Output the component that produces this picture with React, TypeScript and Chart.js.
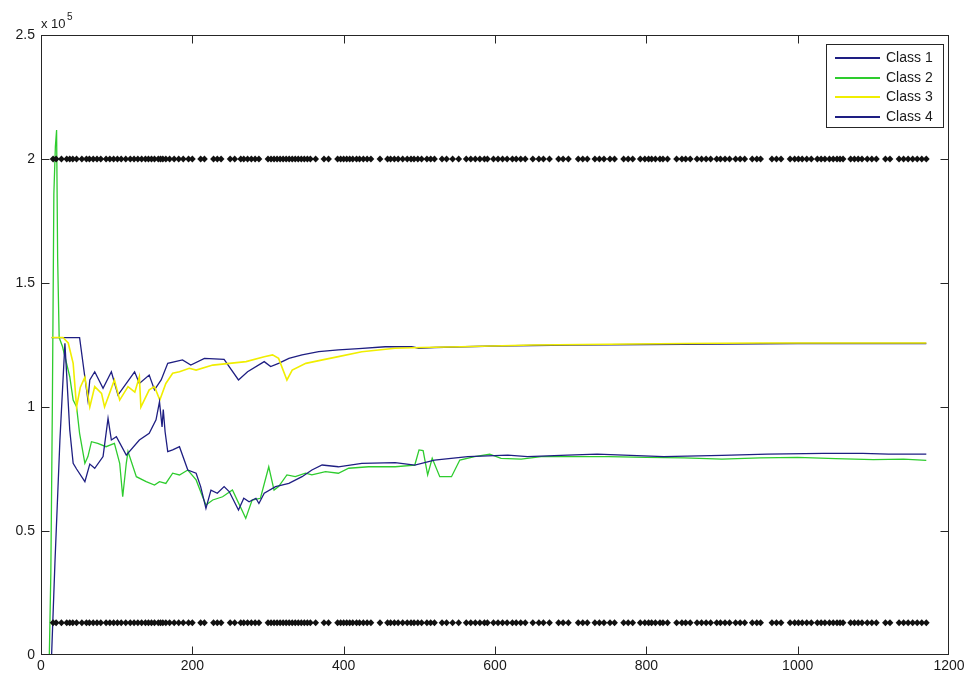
import React, { useEffect, useRef } from "react";
import { Chart, registerables } from "chart.js";

Chart.register(...registerables);

// Values are in units of 10^5
const EXPONENT_TEXT = "5";
const xTicks = [0, 200, 400, 600, 800, 1000, 1200];
const yTicks = [0, 0.5, 1, 1.5, 2, 2.5];
const seriesLabels = ["Class 1", "Class 2", "Class 3", "Class 4"];
const seriesColors = ["#1e1e82", "#2ecc2e", "#f0ee00", "#1e1e82"];

const class1X = [14, 51, 62, 64.5, 71, 82, 93, 101.7, 123.7, 130, 143, 150, 158.8, 167.5, 187, 198, 216, 242, 261, 273, 295, 303.5, 314, 327.6, 345, 367, 393, 420, 455, 490, 499, 520, 560, 600, 700, 800, 900, 1000, 1100, 1170];
const class1Y = [1.28, 1.28, 1.028, 1.109, 1.142, 1.075, 1.142, 1.048, 1.142, 1.095, 1.129, 1.069, 1.109, 1.176, 1.19, 1.169, 1.196, 1.192, 1.109, 1.142, 1.183, 1.163, 1.176, 1.196, 1.21, 1.223, 1.23, 1.235, 1.243, 1.243, 1.237, 1.24, 1.243, 1.246, 1.25, 1.252, 1.254, 1.256, 1.256, 1.256];

const class2X = [11, 13, 15, 17, 19, 20.6, 22, 24, 28.5, 38, 42.5, 47, 51, 58, 62, 66.7, 75, 86, 97, 104, 108, 112.7, 115, 126, 139, 150, 156.6, 165, 174, 183, 194, 205, 213.6, 218, 227, 240, 253, 270.6, 279, 290, 301, 308, 314, 325, 336, 349.6, 358, 376, 393, 406.6, 433, 468, 494, 499.6, 505, 511, 517, 527, 542.5, 553.5, 573, 593, 608, 634.6, 661, 696, 750, 800, 850, 900, 950, 1000, 1050, 1100, 1140, 1170];
const class2Y = [0, 0.33, 1.0, 1.86, 2.05, 2.117, 1.6, 1.28, 1.243, 1.122, 1.028, 1.001, 0.894, 0.773, 0.8, 0.86, 0.853, 0.84, 0.853, 0.773, 0.638, 0.773, 0.82, 0.719, 0.699, 0.685, 0.699, 0.692, 0.733, 0.726, 0.746, 0.706, 0.638, 0.605, 0.625, 0.638, 0.665, 0.551, 0.625, 0.632, 0.759, 0.665, 0.679, 0.726, 0.719, 0.733, 0.726, 0.739, 0.733, 0.753, 0.759, 0.759, 0.766, 0.827, 0.824, 0.726, 0.793, 0.719, 0.719, 0.786, 0.8, 0.81, 0.793, 0.79, 0.8, 0.8, 0.8, 0.797, 0.795, 0.79, 0.795, 0.797, 0.792, 0.788, 0.79, 0.785];

const class3X = [14, 29, 36, 42.5, 47, 52, 58, 64.5, 71, 80, 84, 97, 104, 115, 124, 130, 132, 143, 150, 157, 165, 174, 183, 196, 205, 227, 249, 271, 295, 306, 314, 325, 332, 350, 372, 393, 424, 468, 503, 555, 650, 750, 850, 950, 1050, 1170];
const class3Y = [1.28, 1.28, 1.258, 1.176, 1.0, 1.08, 1.12, 1.0, 1.082, 1.055, 1.0, 1.109, 1.028, 1.082, 1.06, 1.122, 1.0, 1.069, 1.082, 1.028, 1.095, 1.136, 1.142, 1.156, 1.149, 1.169, 1.176, 1.183, 1.203, 1.21, 1.196, 1.109, 1.149, 1.176, 1.19, 1.203, 1.223, 1.237, 1.24, 1.243, 1.25, 1.253, 1.256, 1.258, 1.258, 1.258];

const class4X = [14, 18.4, 25, 31.6, 38, 42.5, 47, 58, 64.5, 71, 82, 88.6, 93, 99.6, 112.7, 130, 143, 152, 156.6, 160, 161.6, 164, 167.5, 174, 183, 194, 205, 211, 218, 224.6, 233, 242, 248.7, 261, 268, 275, 284, 288, 295, 310, 327.6, 345, 358, 371.5, 393, 424, 468, 494, 520, 564, 617, 643, 696, 735, 823, 900, 960, 1034, 1086, 1120, 1170];
const class4Y = [0, 0.37, 0.867, 1.257, 0.907, 0.773, 0.75, 0.699, 0.77, 0.753, 0.8, 0.954, 0.867, 0.88, 0.806, 0.867, 0.894, 0.948, 1.021, 0.92, 0.99, 0.9, 0.82, 0.827, 0.84, 0.746, 0.733, 0.679, 0.591, 0.665, 0.652, 0.679, 0.659, 0.585, 0.632, 0.618, 0.632, 0.611, 0.652, 0.679, 0.692, 0.719, 0.746, 0.766, 0.759, 0.773, 0.776, 0.766, 0.786, 0.8, 0.806, 0.8, 0.806, 0.81, 0.8, 0.805, 0.81, 0.813, 0.813, 0.81, 0.81];

const markerX = [16, 20, 27, 34, 38, 42, 47, 54, 60, 64, 69, 74, 79, 86, 91, 96, 101, 106, 112, 118, 123, 128, 133, 138, 142, 146, 150, 155, 158, 161, 165, 170, 176, 182, 188, 195, 200, 211, 216, 228, 233, 238, 250, 256, 264, 268, 273, 278, 283, 288, 300, 304, 308, 312, 316, 320, 324, 328, 332, 336, 340, 344, 348, 352, 356, 363, 374, 380, 392, 396, 400, 404, 408, 412, 417, 421, 426, 431, 436, 448, 458, 462, 467, 472, 478, 484, 489, 493, 498, 503, 510, 515, 520, 530, 536, 544, 552, 562, 568, 574, 580, 586, 590, 598, 604, 610, 616, 623, 628, 634, 640, 650, 658, 664, 672, 684, 690, 697, 710, 716, 722, 732, 738, 744, 752, 758, 770, 776, 782, 792, 798, 803, 807, 812, 818, 822, 828, 840, 847, 852, 858, 867, 873, 879, 885, 893, 898, 904, 910, 918, 924, 930, 940, 946, 951, 966, 972, 978, 990, 996, 1001, 1006, 1012, 1018, 1026, 1031, 1036, 1042, 1047, 1052, 1056, 1060, 1070, 1075, 1080, 1085, 1092, 1098, 1104, 1116, 1122, 1134, 1140, 1146, 1152, 1158, 1164, 1170];
const markerUpperLevel = 2;
const markerLowerLevel = 0.13;

const FONT = '"Liberation Sans", Arial, sans-serif';
const INK = "#1a1a1a";

function pts(xs: number[], ys: number[]) {
  return xs.map((x, i) => ({ x, y: ys[i] }));
}

const framePlugin = {
  id: "matlabFrame",
  afterDraw(chart: any) {
    const { ctx, chartArea: a, scales } = chart;
    ctx.save();
    ctx.strokeStyle = "#262626";
    ctx.lineWidth = 1;
    const L = Math.round(a.left) + 0.5;
    const R = Math.round(a.right) - 0.5;
    const T = Math.round(a.top) + 0.5;
    const B = Math.round(a.bottom) - 0.5;
    ctx.strokeRect(L, T, R - L, B - T);
    const tl = 8;
    ctx.beginPath();
    xTicks.forEach((v, i) => {
      if (i === 0 || i === xTicks.length - 1) return;
      const x = Math.round(scales.x.getPixelForValue(v)) + 0.5;
      ctx.moveTo(x, B);
      ctx.lineTo(x, B - tl);
      ctx.moveTo(x, T);
      ctx.lineTo(x, T + tl);
    });
    yTicks.forEach((v, i) => {
      if (i === 0 || i === yTicks.length - 1) return;
      const y = Math.round(scales.y.getPixelForValue(v)) + 0.5;
      ctx.moveTo(L, y);
      ctx.lineTo(L + tl, y);
      ctx.moveTo(R, y);
      ctx.lineTo(R - tl, y);
    });
    ctx.stroke();

    // exponent label
    ctx.fillStyle = INK;
    ctx.textAlign = "left";
    ctx.textBaseline = "alphabetic";
    ctx.font = `13px ${FONT}`;
    ctx.fillText("x 10", 41, 28);
    ctx.font = `10px ${FONT}`;
    ctx.fillText(EXPONENT_TEXT, 67, 20);

    // legend box
    const bx = 826.5, by = 44.5, bw = 117, bh = 83;
    ctx.fillStyle = "#ffffff";
    ctx.fillRect(bx, by, bw, bh);
    ctx.strokeStyle = "#262626";
    ctx.lineWidth = 1;
    ctx.strokeRect(bx, by, bw, bh);
    ctx.font = `14px ${FONT}`;
    ctx.textBaseline = "middle";
    seriesLabels.forEach((lab, i) => {
      const y = Math.round(58 + i * 19.6);
      ctx.strokeStyle = seriesColors[i];
      ctx.lineWidth = 2;
      ctx.beginPath();
      ctx.moveTo(835, y);
      ctx.lineTo(880, y);
      ctx.stroke();
      ctx.fillStyle = INK;
      ctx.fillText(lab, 886, y + 0.5);
    });
    ctx.restore();
  },
};

export default function App() {
  const canvasRef = useRef<HTMLCanvasElement | null>(null);

  useEffect(() => {
    document.body.style.margin = "0";
    const canvas = canvasRef.current;
    if (!canvas) return;
    const seriesX = [class1X, class2X, class3X, class4X];
    const seriesY = [class1Y, class2Y, class3Y, class4Y];
    const lineSets = seriesLabels.map((label, i) => ({
      label,
      data: pts(seriesX[i], seriesY[i]),
      showLine: true,
      borderColor: seriesColors[i],
      backgroundColor: seriesColors[i],
      borderWidth: i === 2 ? 1.6 : 1.3,
      pointRadius: 0,
      tension: 0,
      order: 4 - i,
    }));
    const markerSet = (level: number, name: string) => ({
      label: name,
      data: markerX.map((x) => ({ x, y: level })),
      showLine: false,
      pointStyle: "rectRot" as const,
      pointRadius: 3.4,
      pointBorderWidth: 0,
      backgroundColor: "#111111",
      borderColor: "#111111",
      order: 0,
    });

    const chart = new Chart(canvas, {
      type: "scatter",
      data: {
        datasets: [
          ...lineSets,
          markerSet(markerUpperLevel, "upper"),
          markerSet(markerLowerLevel, "lower"),
        ] as any,
      },
      options: {
        responsive: false,
        animation: false,
        devicePixelRatio: 1,
        layout: { padding: { top: 35, right: 16, left: 0, bottom: 0 }, autoPadding: false } as any,
        plugins: {
          legend: { display: false },
          tooltip: { enabled: false },
        },
        scales: {
          x: {
            type: "linear",
            min: 0,
            max: 1200,
            afterBuildTicks: (s: any) => {
              s.ticks = xTicks.map((v) => ({ value: v }));
            },
            afterFit: (s: any) => {
              s.height = 20;
              s.paddingLeft = 0;
              s.paddingRight = 0;
            },
            ticks: {
              color: INK,
              font: { family: FONT, size: 14 },
              padding: 3,
              maxRotation: 0,
              callback: (v: any) => String(v),
            },
            grid: { display: false, drawTicks: false },
            border: { display: false },
          },
          y: {
            type: "linear",
            min: 0,
            max: 2.5,
            afterBuildTicks: (s: any) => {
              s.ticks = yTicks.map((v) => ({ value: v }));
            },
            afterFit: (s: any) => {
              s.width = 41;
              s.paddingTop = 0;
              s.paddingBottom = 0;
            },
            ticks: {
              color: INK,
              font: { family: FONT, size: 14 },
              padding: 6,
              callback: (v: any) => String(v),
            },
            grid: { display: false, drawTicks: false },
            border: { display: false },
          },
        },
      },
      plugins: [framePlugin],
    });
    return () => chart.destroy();
  }, []);

  return (
    <div style={{ width: 965, height: 675, background: "#fff", overflow: "hidden" }}>
      <canvas ref={canvasRef} width={965} height={675} style={{ display: "block" }} />
    </div>
  );
}
